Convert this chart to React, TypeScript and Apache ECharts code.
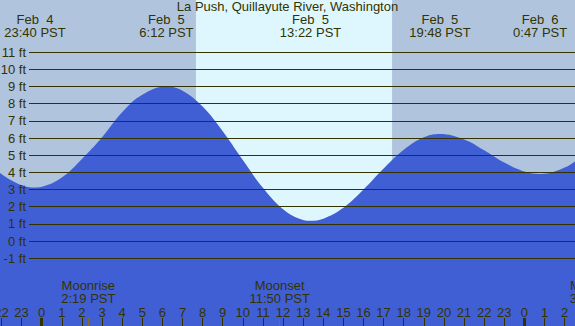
import React, { useEffect, useRef } from "react";
import * as echarts from "echarts";

const TITLE = "La Push, Quillayute River, Washington";

// hours relative to Feb 5 00:00 PST, tide height in feet
const tideHours = [-3, -2, -1, -0.333, 0, 1, 2, 3, 4, 5, 6.2, 7, 8, 9, 10, 11, 12, 13, 13.367, 14, 15, 16, 17, 18, 19, 19.8, 21, 22, 23, 24, 24.783, 26, 27];
const tideFeet = [4.95, 3.9, 3.25, 3.12, 3.16, 3.7, 4.78, 6.05, 7.5, 8.52, 9.0, 8.76, 7.84, 6.4, 4.72, 3.1, 1.86, 1.23, 1.18, 1.3, 1.94, 3.0, 4.22, 5.32, 6.05, 6.24, 5.92, 5.29, 4.57, 4.05, 3.91, 4.28, 5.07];

// high / low tide events
const extremeHours = [-0.333, 6.2, 13.367, 19.8, 24.783];
const extremeDates = ["Feb\u00a0\u00a04", "Feb\u00a0\u00a05", "Feb\u00a0\u00a05", "Feb\u00a0\u00a05", "Feb\u00a0\u00a06"];
const extremeTimes = ["23:40 PST", "6:12 PST", "13:22 PST", "19:48 PST", "0:47 PST"];

// daylight
const sunriseHour = 7.67;
const sunsetHour = 17.42;

// moon events
const moonHours = [2.317, 11.833, 27.6];
const moonNames = ["Moonrise", "Moonset", "Moonrise"];
const moonTimes = ["2:19 PST", "11:50 PST", "3:36 PST"];

// axis labels
const hourTicks = [-2, -1, 0, 1, 2, 3, 4, 5, 6, 7, 8, 9, 10, 11, 12, 13, 14, 15, 16, 17, 18, 19, 20, 21, 22, 23, 24, 25, 26];
const midnightHours = [0, 24];
const feetLevels = [-1, 0, 1, 2, 3, 4, 5, 6, 7, 8, 9, 10, 11];

const X_MIN = -2.074;
const X_MAX = 29.5;
const X2_MIN = -0.632;
const Y_MIN = -4.945;
const Y_MAX = 14.04;

const TEXT = "#333300";
const FONT = "'Liberation Sans', Arial, sans-serif";
const NIGHT = "#b0c4de";
const DAY = "#def7fe";
const BLUE = "#415fd5";
const MOON = "#8b6a1e";

function findIdx(arr: number[], v: number) {
  let best = 0;
  let d = Infinity;
  arr.forEach((a, i) => {
    const dd = Math.abs(a - v);
    if (dd < d) {
      d = dd;
      best = i;
    }
  });
  return best;
}

export default function App() {
  const ref = useRef<HTMLDivElement>(null);
  useEffect(() => {
    document.body.style.margin = "0";
    if (!ref.current) return;
    const chart = echarts.init(ref.current, null, { renderer: "svg" });
    const baseAxis = {
      type: "value" as const,
      gridIndex: 0,
      min: X_MIN,
      max: X_MAX,
      z: 10,
      axisLine: { show: false, onZero: false },
      splitLine: { show: false },
    };
    const option: any = {
      animation: false,
      backgroundColor: NIGHT,
      title: {
        text: TITLE,
        left: "center",
        top: 0,
        padding: 0,
        textStyle: { fontSize: 13, fontWeight: "normal", color: TEXT, fontFamily: FONT },
      },
      grid: [
        { left: 0, right: -60, top: 0, bottom: 0, outerBoundsMode: "none", containLabel: false },
        { left: 29, right: -60, top: 0, bottom: 0, outerBoundsMode: "none", containLabel: false },
      ],
      xAxis: [
        {
          ...baseAxis,
          position: "bottom",
          axisTick: { show: true, inside: true, length: 8, customValues: hourTicks, lineStyle: { color: TEXT, width: 1 } },
          axisLabel: {
            show: true,
            inside: true,
            margin: 9,
            lineHeight: 10,
            customValues: hourTicks,
            formatter: (v: number) => String((((Math.round(v) % 24) + 24) % 24)),
            color: TEXT,
            fontSize: 13,
            fontFamily: FONT,
          },
        },
        {
          ...baseAxis,
          position: "bottom",
          axisTick: { show: true, inside: true, length: 8, customValues: midnightHours, lineStyle: { color: TEXT, width: 3 } },
          axisLabel: { show: false },
        },
        {
          ...baseAxis,
          position: "bottom",
          axisTick: { show: true, inside: true, length: 8, customValues: moonHours, lineStyle: { color: MOON, width: 1 } },
          axisLabel: { show: false },
        },
        {
          ...baseAxis,
          position: "bottom",
          axisTick: { show: false },
          axisLabel: {
            show: true,
            inside: true,
            margin: 21,
            customValues: moonHours,
            lineHeight: 13,
            formatter: (v: number) => {
              const i = findIdx(moonHours, v);
              return moonNames[i] + "\n" + moonTimes[i];
            },
            color: TEXT,
            fontSize: 13,
            fontFamily: FONT,
          },
        },
        {
          ...baseAxis,
          position: "top",
          axisTick: { show: false },
          axisLabel: {
            show: true,
            inside: true,
            margin: 13,
            customValues: extremeHours,
            lineHeight: 13,
            formatter: (v: number) => {
              const i = findIdx(extremeHours, v);
              return extremeDates[i] + "\n" + extremeTimes[i];
            },
            color: TEXT,
            fontSize: 13,
            fontFamily: FONT,
          },
        },
        {
          type: "value",
          gridIndex: 1,
          min: X2_MIN,
          max: X_MAX,
          show: false,
          axisLine: { show: false, onZero: false },
        },
      ],
      yAxis: [
        { type: "value", gridIndex: 0, min: Y_MIN, max: Y_MAX, show: false, axisLine: { show: false, onZero: false } },
        { type: "value", gridIndex: 1, min: Y_MIN, max: Y_MAX, show: false, axisLine: { show: false, onZero: false } },
      ],
      series: [
        {
          type: "line",
          xAxisIndex: 0,
          yAxisIndex: 0,
          data: [],
          z: 1,
          silent: true,
          markArea: {
            silent: true,
            itemStyle: { color: DAY },
            data: [[{ xAxis: sunriseHour }, { xAxis: sunsetHour }]],
          },
        },
        {
          type: "line",
          xAxisIndex: 0,
          yAxisIndex: 0,
          z: 2,
          smooth: 0.4,
          symbol: "none",
          silent: true,
          lineStyle: { width: 0 },
          areaStyle: { color: BLUE, opacity: 1, origin: "start" },
          data: tideHours.map((h, i) => [h, tideFeet[i]]),
        },
        {
          type: "line",
          xAxisIndex: 5,
          yAxisIndex: 1,
          data: [],
          z: 3,
          silent: true,
          markLine: {
            silent: true,
            symbol: ["none", "none"],
            lineStyle: { color: TEXT, width: 1, type: "solid" },
            label: {
              show: true,
              position: "start",
              distance: 3,
              formatter: (p: any) => `${p.value} ft`,
              color: TEXT,
              fontSize: 13,
              fontFamily: FONT,
            },
            data: feetLevels.map((v) => ({ yAxis: v })),
          },
        },
      ],
    };
    chart.setOption(option);
    return () => chart.dispose();
  }, []);
  return <div ref={ref} style={{ width: 575, height: 326, overflow: "hidden" }} />;
}
